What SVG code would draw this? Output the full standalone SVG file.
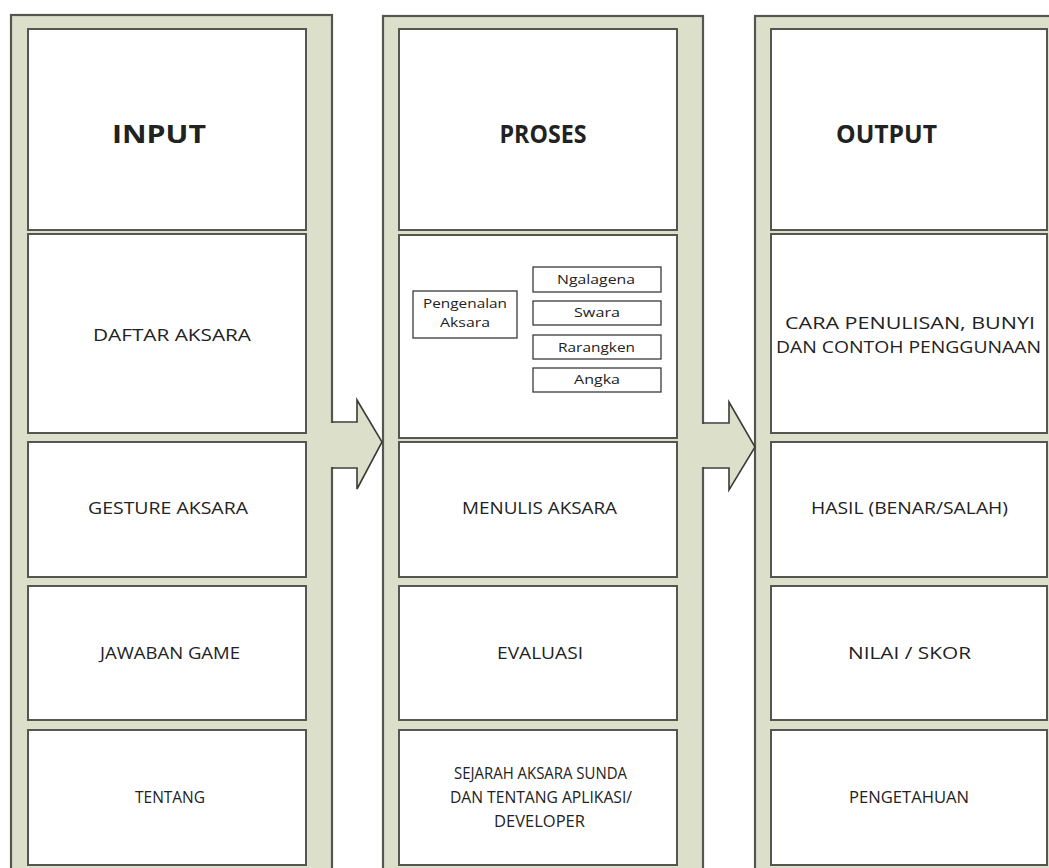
<svg xmlns="http://www.w3.org/2000/svg" width="1049" height="868" viewBox="0 0 1049 868">
<style>
.col{fill:#dcdfca;stroke:#55564f;stroke-width:2.2}
.afill{fill:#dcdfca;stroke:none}
.aline{fill:none;stroke:#3a3a36;stroke-width:1.6;stroke-linejoin:miter}
.box{fill:#ffffff;stroke:#555650;stroke-width:2}
.sbox{fill:#ffffff;stroke:#3a3a3a;stroke-width:1.3}
text{font-family:"Open Sans","Liberation Sans",sans-serif;fill:#222;text-anchor:middle}
.t{font-size:25px;font-weight:bold}
.l{font-size:16px}
.s{font-size:13.5px}
</style>
<rect width="1049" height="868" fill="#ffffff"/>
<g id="columns">
<rect class="col" x="11" y="15" width="321" height="870"/>
<rect class="col" x="383" y="16" width="320" height="870"/>
<rect class="col" x="755" y="16" width="310" height="870"/>
</g>
<g id="connectors">
<polygon class="afill" points="329,423 357,423 357,401 381,442 357,488 357,467 329,467"/>
<path class="aline" d="M332,422 H357 V400 L382,442 L357,489 V468 H332"/>
<polygon class="afill" points="700,424 729,424 729,403 754,447 729,489 729,467 700,467"/>
<path class="aline" d="M703,423 H729 V402 L755,447 L729,490 V468 H703"/>
</g>
<g id="input-title"><rect class="box" x="28" y="29" width="278" height="201"/><text class="t" x="159" y="143" textLength="94" lengthAdjust="spacingAndGlyphs">INPUT</text></g>
<g id="daftar-aksara"><rect class="box" x="28" y="234" width="278" height="199"/><text class="l" x="172" y="341" textLength="158" lengthAdjust="spacingAndGlyphs">DAFTAR AKSARA</text></g>
<g id="gesture-aksara"><rect class="box" x="28" y="442" width="278" height="135"/><text class="l" x="168" y="514" textLength="160" lengthAdjust="spacingAndGlyphs">GESTURE AKSARA</text></g>
<g id="jawaban-game"><rect class="box" x="28" y="586" width="278" height="134"/><text class="l" x="170" y="659" textLength="140" lengthAdjust="spacingAndGlyphs">JAWABAN GAME</text></g>
<g id="tentang"><rect class="box" x="28" y="730" width="278" height="135"/><text class="l" x="170" y="803" textLength="70" lengthAdjust="spacingAndGlyphs">TENTANG</text></g>

<g id="proses-title"><rect class="box" x="399" y="29" width="278" height="201"/><text class="t" x="543" y="143" textLength="87" lengthAdjust="spacingAndGlyphs">PROSES</text></g>
<g id="pengenalan-aksara"><rect class="box" x="399" y="235" width="278" height="203"/>
<g id="pengenalan"><rect class="sbox" x="413" y="291" width="104" height="47"/><text class="s" x="465" y="308" textLength="84" lengthAdjust="spacingAndGlyphs">Pengenalan</text><text class="s" x="465" y="327" textLength="50" lengthAdjust="spacingAndGlyphs">Aksara</text></g>
<g id="ngalagena"><rect class="sbox" x="533" y="267" width="128" height="25"/><text class="s" x="596" y="284" textLength="78" lengthAdjust="spacingAndGlyphs">Ngalagena</text></g>
<g id="swara"><rect class="sbox" x="533" y="301" width="128" height="24"/><text class="s" x="597" y="317" textLength="46" lengthAdjust="spacingAndGlyphs">Swara</text></g>
<g id="rarangken"><rect class="sbox" x="533" y="335" width="128" height="24"/><text class="s" x="596.5" y="352" textLength="77" lengthAdjust="spacingAndGlyphs">Rarangken</text></g>
<g id="angka"><rect class="sbox" x="533" y="368" width="128" height="24"/><text class="s" x="597" y="384" textLength="46" lengthAdjust="spacingAndGlyphs">Angka</text></g>
</g>
<g id="menulis-aksara"><rect class="box" x="399" y="442" width="278" height="135"/><text class="l" x="539.5" y="514" textLength="155" lengthAdjust="spacingAndGlyphs">MENULIS AKSARA</text></g>
<g id="evaluasi"><rect class="box" x="399" y="586" width="278" height="134"/><text class="l" x="540" y="659" textLength="86" lengthAdjust="spacingAndGlyphs">EVALUASI</text></g>
<g id="sejarah"><rect class="box" x="399" y="730" width="278" height="135"/><text class="l" x="540.5" y="779" textLength="173" lengthAdjust="spacingAndGlyphs">SEJARAH AKSARA SUNDA</text><text class="l" x="541" y="803" textLength="182" lengthAdjust="spacingAndGlyphs">DAN TENTANG APLIKASI/</text><text class="l" x="539.5" y="827" textLength="91" lengthAdjust="spacingAndGlyphs">DEVELOPER</text></g>

<g id="output-title"><rect class="box" x="771" y="29" width="276" height="201"/><text class="t" x="886.5" y="143" textLength="101" lengthAdjust="spacingAndGlyphs">OUTPUT</text></g>
<g id="cara-penulisan"><rect class="box" x="771" y="234" width="276" height="199"/><text class="l" x="910" y="329" textLength="250" lengthAdjust="spacingAndGlyphs">CARA PENULISAN, BUNYI</text><text class="l" x="908.5" y="353" textLength="265" lengthAdjust="spacingAndGlyphs">DAN CONTOH PENGGUNAAN</text></g>
<g id="hasil"><rect class="box" x="771" y="442" width="276" height="135"/><text class="l" x="909.5" y="514" textLength="197" lengthAdjust="spacingAndGlyphs">HASIL (BENAR/SALAH)</text></g>
<g id="nilai"><rect class="box" x="771" y="586" width="276" height="134"/><text class="l" x="909.5" y="659" textLength="123" lengthAdjust="spacingAndGlyphs">NILAI / SKOR</text></g>
<g id="pengetahuan"><rect class="box" x="771" y="730" width="276" height="135"/><text class="l" x="909" y="803" textLength="120" lengthAdjust="spacingAndGlyphs">PENGETAHUAN</text></g>
</svg>
